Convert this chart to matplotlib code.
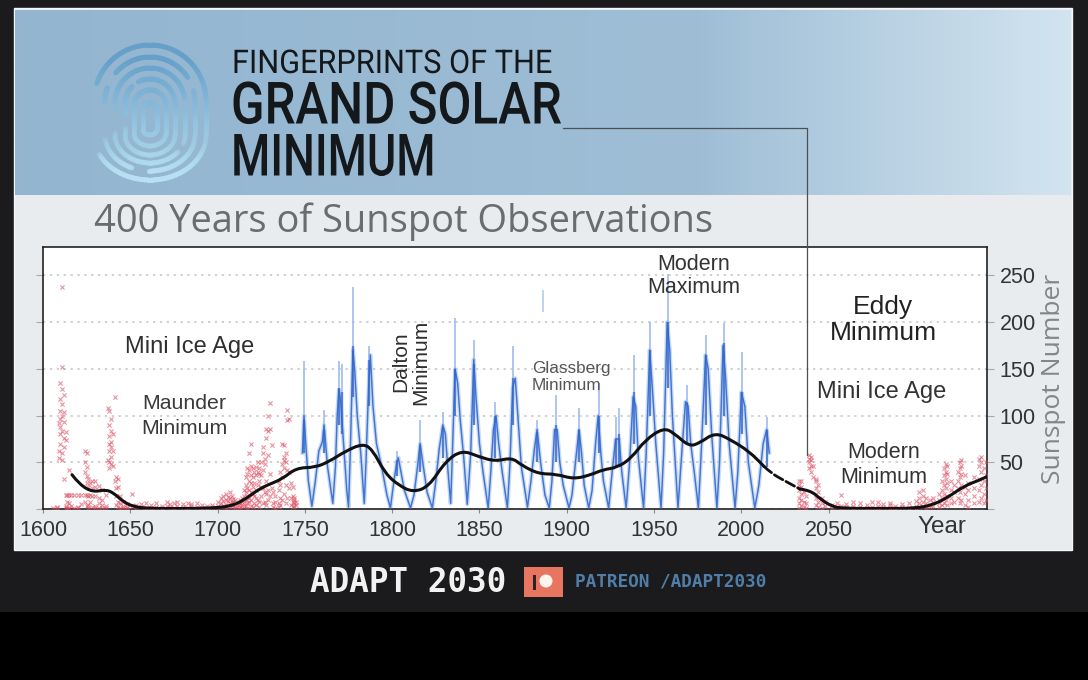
import numpy as np
import matplotlib
matplotlib.use("Agg")
import matplotlib.pyplot as plt
from matplotlib.collections import LineCollection
from matplotlib.patches import Rectangle, Circle, PathPatch
from matplotlib.path import Path
from matplotlib.patheffects import AbstractPathEffect
from matplotlib.transforms import Affine2D

# ---------- data ----------
x_ticks = [1600, 1650, 1700, 1750, 1800, 1850, 1900, 1950, 2000, 2050]
y_ticks = [50, 100, 150, 200, 250]

blue_years = [1748.6,1749.5,1750.5,1752,1754, 1756,1758,1760,1761,1763,1766,
 1767.5,1768.5,1769.5,1770.5,1772,1774,1775, 1776,1777.5,1778.5,1780,1782,1784,
 1785,1786.5,1787.5,1789,1791,1794,1797,1799, 1801,1802.5,1803.5,1805,1807,1810.5,
 1812.5,1814.5,1816,1817.5,1820,1823, 1825,1827,1829,1830.5,1832,1833.5,
 1834.5,1836,1837.5,1839,1841,1843, 1845,1846.7,1848,1850,1852,1855,
 1856.5,1858,1859.5,1861,1863,1866, 1867.5,1869,1870.5,1872,1874,1877.5,
 1879.5,1881.5,1883,1885,1887.5,1890, 1891.5,1893,1894.5,1896,1898,1901.3,
 1903,1905,1907,1908.5,1910,1912.6, 1914.5,1916.5,1918,1919.5,1921,1924,
 1926,1928,1930,1931.5,1934, 1936,1938,1939.5,1941,1944,
 1945.5,1947.5,1949,1951,1954, 1955.5,1957.5,1959,1960.5,1963.7,
 1965.5,1968,1969.5,1971,1973,1975.4, 1977,1979.5,1981,1983,1986,
 1987.5,1989.5,1991,1993,1996.4, 1998,2000,2002,2004,2007.7, 2010,2012.5,2014.5,2016]
blue_vals = [60,100,70,30,3, 30,62,72,90,45,6,
 45,100,128,115,75,20,2, 60,170,150,100,60,6,
 50,130,165,110,70,45,15,1, 30,48,55,40,20,1,
 15,45,70,50,18,1, 30,65,90,80,40,6,
 60,150,135,95,55,5, 60,160,120,70,40,1,
 40,85,100,70,40,1, 50,130,140,100,45,2,
 30,65,85,50,15,1, 30,85,85,50,25,1,
 15,50,85,60,25,1, 20,70,100,60,30,1,
 40,75,75,40,1, 50,120,110,55,1,
 60,170,130,70,1, 60,200,170,100,1,
 50,115,110,70,40,1, 60,165,150,80,1,
 50,175,140,70,1, 40,125,110,50,1, 25,70,85,60]

spike_years = [1749.5,1761,1769.5,1771,1777.5,1787,1803,1816,1829,1836,1846.7,1859,1869,
 1883,1893.8,1907,1918.3,1928,1930,1938.7,1947.8,1958,1968.8,1980,1990.3,2000.5,2014.8]
spike_tops = [158,106,158,155,238,174,62,95,104,204,181,115,175,
 95,122,108,135,99,108,165,200,252,133,186,199,168,99]
spike_floors = [60,60,90,80,120,110,35,40,55,100,90,55,90,
 50,50,50,60,45,45,70,100,130,70,90,100,80,45]
body_tops = [95,85,130,125,175,160,52,68,88,150,155,100,140,
 82,90,85,100,75,80,125,170,200,115,165,178,125,85]
lone_spike_year = 1886.4
lone_spike_range = [211, 234]

smooth_years = [1616.6,1621,1628.6,1636,1641,1645.7,1651.4,1659,1678,1697,1706.7,1714,1722,1727.6,
 1737,1745,1756,1764,1773,1783,1788.6,1796,1804,1812,1821,1830.5,1840,1849.6,1859,1868.6,1874,
 1883.6,1894,1904,1914,1920.5,1929,1937,1945,1955.5,1961.6,1970,1976,1985,1994,2004.5,2013]
smooth_vals = [36.7,26,18,21,16.4,8.2,2.8,0.7,0.4,1,2.8,8.2,19,25,
 32,44,44.5,51,61.6,70,64,38,25,18,24,51,63,56,51,55,47,
 37.7,37.4,32,36.7,42,44.5,54.5,74,87,81,67,70.5,82,74,61.6,45.6]
forecast_years = [2013,2017,2025,2033.5]
forecast_vals = [45.6,38.4,30,21.4]
future_years = [2033.5,2039.6,2045.7,2052,2058,2080,2099,2109,2117.6,2128,2136,2141]
future_vals = [21.4,20,10,2.8,0.7,0.5,0.7,4,11.7,25,30.6,35]

# red observation crosses: (year, [values seen in that year's column])
red_early = [
 (1606,[1]),(1608,[2,1]),(1609,[92,62,55]),(1610,[135,118,105,96,88,80,70]),(1611,[238,152,128,112,100,84,60,52]),
 (1612,[122,104,93,76,66,32]),(1613,[1,3,15,82,74]),(1614,[15,8,1]),(1615,[42,15,6,1]),(1616,[15,3]),
 (1618,[15,1]),(1620,[15,2,1]),(1622,[15,5]),(1624,[62,50,40,15,8]),(1625,[60,45,35,28,15,3]),
 (1626,[32,24,14,4,1]),(1627,[28,15,8]),(1628,[30,22,14,2]),(1630,[30,24,14,3,1]),(1632,[25,12,6,1]),
 (1634,[20,10,4,1]),(1636,[15,3,1]),(1637,[108,52]),(1638,[105,90,78,70,62,50,44]),(1639,[96,84,72,66,56,48]),
 (1640,[80,62,46]),(1641,[120,30]),(1642,[34,22,14,4]),(1643,[32,24,8,2]),(1644,[14,6,1]),(1646,[8,3,1]),
 (1648,[5,2,1]),(1651,[16,3]),(1653,[4,1]),(1656,[2,5]),(1659,[6,1]),(1662,[1,4]),(1665,[2,6]),(1668,[1,3]),
 (1671,[3,8]),(1673,[2,5]),(1675,[6,1]),(1677,[3,7]),(1680,[2,5]),(1683,[1,6]),(1685,[3,5]),(1688,[2,6]),
 (1691,[1,4]),(1694,[3,1]),(1697,[2,4]),(1700,[3,8,1]),(1702,[12,6,2]),(1703,[14,9,3]),(1705,[10,16,4,1]),
 (1707,[6,12,18,2]),(1708,[8,14,3]),(1710,[5,10,2,1]),(1712,[4,8,1]),(1714,[7,12,3]),(1716,[10,18,26,34,3]),
 (1717,[14,22,38,44,6,1]),(1718,[12,20,30,42,60,8]),(1719,[10,18,28,36,46,70,3]),(1720,[16,24,34,44,2]),
 (1722,[12,20,45,36,4]),(1724,[8,30,38,44,2]),(1725,[14,24,36,50]),(1726,[6,22,42,60,66]),(1728,[4,16,30,76,86]),
 (1729,[10,20,58,84,100]),(1730,[14,38,86,114]),(1731,[22,68]),(1733,[1,8,14]),(1735,[2,6,20,30]),(1737,[10,34,48,70]),
 (1738,[16,44,52,56,68]),(1739,[6,26,50,60]),(1740,[12,42,106,95]),(1741,[22,40,96]),(1742,[4,12,28]),(1743,[2,8,14,24]),(1744,[6,12,10,3]),
 (1706,[3,9,13]),(1709,[4,11,7]),(1713,[2,6,10]),(1715,[3,8,14,20]),(1721,[6,14,28,40]),(1723,[10,26,40,50]),
 (1727,[8,18,48,54]),(1732,[2,6,18]),(1736,[4,12,26,40]),(1745,[4,8]),
]
red_late = [
 (2033,[1,6,12,20,26,30]),(2034,[3,10,16,24,30]),(2036,[2,8,18]),(2037,[1,6,14]),(2039,[44,50,54,58]),(2040,[40,46,52,56]),
 (2041,[34,46]),(2043,[4,12,22,30,32]),(2044,[2,8,18,26]),(2046,[1,6,12]),(2048,[3,8]),(2052,[1,4]),(2055,[2,6]),(2057,[1,15,3]),
 (2060,[2,5]),(2064,[1,7,3]),(2068,[2,6]),(2072,[1,4]),(2075,[2,8]),(2078,[3,7,1]),(2081,[2,5]),(2085,[1,4,6]),(2088,[3,1]),
 (2092,[2,5]),(2096,[1,6]),(2100,[3,9,1]),(2102,[6,12,18,2]),(2104,[8,14,20,3]),(2106,[6,12,1]),(2108,[4,10,2]),(2110,[3,8,12]),
 (2113,[6,10,16,2]),(2115,[4,12,20,30]),(2116,[6,16,26,36,44]),(2117,[10,22,32,40,48]),(2118,[4,14,28,38,46]),(2120,[6,12,20,30]),
 (2122,[8,18,26]),(2124,[12,22,30,40]),(2125,[6,18,34,44,50]),(2126,[10,26,38,46,52]),(2128,[4,16,24,36]),(2130,[2,10,20,28]),
 (2133,[6,14,22,34]),(2136,[8,20,32,46,54]),(2137,[12,26,40,50,56]),(2139,[6,16,30,44]),(2140,[10,22,36,50]),
]

# ---------- helpers ----------
W, H = 1088, 680
fig = plt.figure(figsize=(W/100, H/100), dpi=100, facecolor="#1b1b1d")
SANS = ["Liberation Sans", "DejaVu Sans"]
TITLE = ["Roboto", "DejaVu Sans"]
MONO = ["DejaVu Sans Mono"]


class Squeeze(AbstractPathEffect):
    """Draw a text narrower horizontally, keeping its left edge in place."""
    def __init__(self, left_px, factor):
        super().__init__()
        self.left, self.factor = left_px, factor

    def draw_path(self, renderer, gc, tpath, affine, rgbFace=None):
        squeeze = Affine2D().translate(-self.left, 0).scale(self.factor, 1).translate(self.left, 0)
        renderer.draw_path(gc, tpath, affine + squeeze, rgbFace)


def T(px, py, s, size, color="#333333", squeeze=None, **kw):
    kw.setdefault("ha", "center")
    kw.setdefault("va", "center")
    kw.setdefault("family", SANS)
    txt = fig.text(px/W, 1-py/H, s, fontsize=size, color=color, zorder=20, **kw)
    if squeeze:
        txt.set_path_effects([Squeeze(px, squeeze)])
    return txt


def smooth_path(xs, ys):
    """Quadratic path through the midpoints of the read points, for a round curve."""
    p = np.c_[xs, ys]
    verts, codes = [p[0]], [Path.MOVETO]
    for i in range(1, len(p)-1):
        mid = (p[i]+p[i+1])/2
        verts += [p[i], mid]
        codes += [Path.CURVE3, Path.CURVE3]
    verts.append(p[-1]); codes.append(Path.LINETO)
    return Path(verts, codes)


# ---------- background layer in pixel coordinates ----------
bg = fig.add_axes([0, 0, 1, 1], zorder=0)
bg.set_xlim(0, W); bg.set_ylim(H, 0); bg.axis("off")
bg.add_patch(Rectangle((0, 612), W, 68, fc="black", ec="none"))
bg.add_patch(Rectangle((14, 8), 1058, 542, fc="#e8ecef", ec="#f4f6f7", lw=1))
c0 = np.array([0x93, 0xb5, 0xd0])/255
c1 = np.array([0x9f, 0xbe, 0xd6])/255
c2 = np.array([0xd2, 0xe4, 0xf0])/255
t = np.linspace(0, 1, 400)
grad = np.stack([np.interp(t, [0, .65, 1], [c0[i], c1[i], c2[i]]) for i in range(3)], axis=-1)[None, :, :]
bg.imshow(grad, extent=(15, 1071, 195, 10), aspect="auto", zorder=1)
bg.set_xlim(0, W); bg.set_ylim(H, 0)

# fingerprint logo: nested stadium outlines, with gaps given as fractions of the way round
cx = 150
rings = [(56, 45, 180, [(.38, .62)]),
         (45, 57, 171, [(.10, .13), (.34, .38), (.42, .58), (.70, .74)]),
         (35, 68, 163, [(.05, .08), (.45, .55), (.85, .88)]),
         (25, 79, 155, [(.30, .33), (.47, .53)]),
         (16, 90, 146, []),
         (7, 103, 135, [])]
top_c = np.array([0x66, 0xa0, 0xc9])/255
bot_c = np.array([0xb8, 0xe2, 0xf3])/255
segs, cols = [], []
for w, yt, yb, gaps in rings:
    a1 = np.radians(np.linspace(0, 180, 50))
    a2 = np.radians(np.linspace(180, 360, 50))
    top = np.c_[cx + w*np.cos(a1), yt + w - w*np.sin(a1)]
    bot = np.c_[cx + w*np.cos(a2), yb - w*.8 - w*.8*np.sin(a2)]
    left = np.c_[np.full(20, cx-w), np.linspace(top[-1, 1], bot[0, 1], 20)]
    right = np.c_[np.full(20, cx+w), np.linspace(bot[-1, 1], top[0, 1], 20)]
    pts = np.vstack([right[10:], top, left, bot, right[:10]])
    n = len(pts)
    for i in range(n-1):
        fr = i/n
        if any(lo <= fr <= hi for lo, hi in gaps):
            continue
        f = np.clip((pts[i, 1]-60)/115, 0, 1)
        col = top_c*(1-f) + bot_c*f
        fade = 1 - 0.6*np.exp(-((pts[i, 1]-142)/20)**2)
        segs.append(pts[i:i+2]); cols.append((*col, fade))
bg.add_collection(LineCollection(segs, colors=cols, linewidths=3.6, zorder=2, capstyle="round"))

# ---------- chart ----------
ax = fig.add_axes([43/W, 1-509/H, 944/W, 262/H], zorder=5, facecolor="white")
ax.set_xlim(1600, 2140.7)
ax.set_ylim(0, 280.5)
ax.grid(axis="y", ls=(0, (1.5, 3)), color="#c4c4c4", lw=1.1, zorder=1)
ax.set_axisbelow(True)

ax.plot(blue_years, blue_vals, color="#b4ccf0", lw=3.0, alpha=.7, zorder=2, solid_joinstyle="round")
ax.vlines(spike_years, spike_floors, spike_tops, color="#9fbcee", lw=1.2, zorder=2.5)
ax.vlines(lone_spike_year, lone_spike_range[0], lone_spike_range[1], color="#b4ccf0", lw=1.2, zorder=2.5)
ax.plot(blue_years, blue_vals, color="#4274d2", lw=1.05, zorder=3)
ax.vlines(spike_years, spike_floors, body_tops, color="#2f63cc", lw=1.7, alpha=.7, zorder=3.2)

red_x, red_y = [], []
for grp in (red_early, red_late):
    for yr, vals in grp:
        red_x += [yr]*len(vals)
        red_y += vals
ax.scatter(red_x, red_y, marker="x", s=9, lw=.8, color="#dc4a60", alpha=.6, zorder=3)

for xs, ys, style, lw in [(smooth_years, smooth_vals, "-", 2.2),
                          (forecast_years, forecast_vals, (0, (3.5, 1.3)), 2.0),
                          (future_years, future_vals, "-", 2.2)]:
    ax.add_patch(PathPatch(smooth_path(xs, ys), fill=False, ec="#111111", lw=lw, ls=style, zorder=4, capstyle="round"))

ax.set_xticks(x_ticks)
ax.set_yticks([0] + y_ticks)
ax.set_yticklabels([""] + [str(v) for v in y_ticks])
ax.tick_params(axis="x", length=3, width=.8, color="#888888", labelsize=15.5, labelcolor="#333333", pad=5)
ax.tick_params(axis="y", left=True, right=True, labelleft=False, labelright=True, length=5, width=.8,
               color="#a8a8a8", labelsize=15.5, labelcolor="#333333", pad=4)
for lab in ax.get_xticklabels() + ax.get_yticklabels():
    lab.set_family(SANS)
for s in ax.spines.values():
    s.set_color("#222222"); s.set_linewidth(1.2)

# leader line from the title to the chart
over = fig.add_axes([0, 0, 1, 1], zorder=10)
over.set_xlim(0, W); over.set_ylim(H, 0); over.axis("off"); over.patch.set_alpha(0)
over.plot([563, 807, 807], [128, 128, 455], color="#4a5054", lw=.9)

# Patreon badge
over.add_patch(Rectangle((524, 567), 39, 30, fc="#e8755f", ec="none"))
over.add_patch(Rectangle((533, 575), 3, 15, fc="#2b2326", ec="none"))
over.add_patch(Circle((546, 581), 6.5, fc="#fff4ee", ec="none"))

# ---------- text ----------
T(232, 64, "FINGERPRINTS OF THE", 23.5, "#15181b", ha="left", family=TITLE, squeeze=.94)
T(231, 108, "GRAND SOLAR", 42, "#15181b", ha="left", family=TITLE, fontweight="medium", squeeze=.845)
T(231, 160, "MINIMUM", 42, "#15181b", ha="left", family=TITLE, fontweight="medium", squeeze=.77)
T(94, 222, "400 Years of Sunspot Observations", 27.4, "#6a6d70", ha="left", family=["Open Sans", "DejaVu Sans"])

T(190, 347, "Mini Ice Age", 17, "#2f2f2f")
T(184, 416, "Maunder\nMinimum", 15.3, "#3a3a3a", linespacing=1.35)
T(411, 362, "Dalton\nMinimum", 15, "#2f2f2f", rotation=90, linespacing=1.05)
T(532, 377, "Glassberg\nMinimum", 12.3, "#555555", ha="left", linespacing=1.2)
T(694, 276, "Modern\nMaximum", 15.5, "#333333", linespacing=1.1)
T(883, 320, "Eddy\nMinimum", 19, "#222222", linespacing=1.15)
T(882, 392, "Mini Ice Age", 17, "#333333")
T(884, 465, "Modern\nMinimum", 15.5, "#333333", linespacing=1.2)
T(942, 527, "Year", 17.5, "#333333")
T(1053, 379, "Sunspot Number", 19, "#858585", rotation=90, family=["Open Sans", "DejaVu Sans"])

T(310, 582, "ADAPT 2030", 23.5, "#f2f2f2", ha="left", family=MONO, fontweight="bold")
T(575, 582, "PATREON /ADAPT2030", 12.8, "#4f7ea8", ha="left", family=MONO, fontweight="bold")

fig.savefig("out.png", dpi=100, facecolor=fig.get_facecolor())
